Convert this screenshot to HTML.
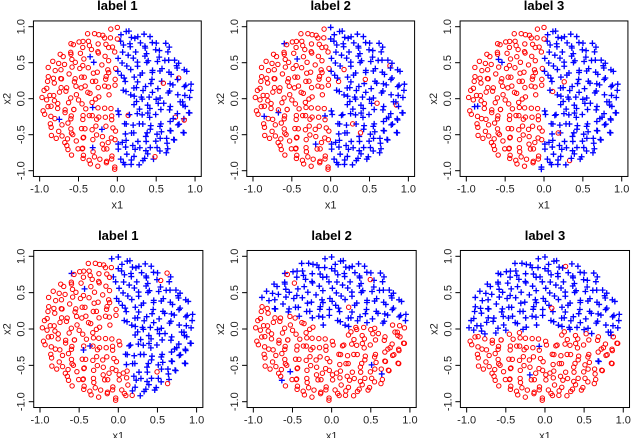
<!DOCTYPE html>
<html><head><meta charset="utf-8"><style>
html,body{margin:0;padding:0;background:#fff;}
svg{display:block;font-family:"Liberation Sans",Arial,sans-serif;}
</style></head><body>
<svg id="chart" width="640" height="438" viewBox="0 0 640 438" xmlns="http://www.w3.org/2000/svg"></svg>
<script>
const tickVals = [-1.0, -0.5, 0.0, 0.5, 1.0];
const tickLabels = ["-1.0", "-0.5", "0.0", "0.5", "1.0"];
const panelTitles = ["label 1", "label 2", "label 3", "label 1", "label 2", "label 3"];
const ang = [1,3,4,7,9,11,12,15,17,19,20,23,25,26,29,31,32,35,36,39,41,42,45,47,48,51,53,54,57,59,60,63,64,67,69,70,73,75,77,78,81,83,84,87,89,90,93,95,96,99,101,102,105,107,108,111,113,115,116,119,121,122,125,127,128,131,133,134,137,139,140,143,145,147,148,151,153,154,157,159,161,162,165,167,168,171,173,174,177,179,181,182,185,187,189,190,193,195,196,199,201,202,205,207,208,211,213,215,216,219,221,222,225,227,228,231,233,234,237,239,241,242,245,247,249,250,253,255,256,259,261,262,265,267,268,271,273,275,276,279,281,282,285,287,288,291,293,294,297,299,301,302,305,307,309,310,313,315,316,319,321,322,325,327,328,331,333,335,336,339,341,342,345,347,348,351,353,354,357,359];
const rad = [0.93,0.41,0.78,0.66,0.22,0.88,0.97,0.54,0.71,0.35,0.84,0.62,0.95,0.48,0.76,0.89,0.29,0.67,0.91,0.58,0.81,0.15,0.73,0.98,0.44,0.86,0.63,0.37,0.92,0.69,0.52,0.79,0.96,0.26,0.83,0.6,0.9,0.47,0.74,0.87,0.33,0.94,0.65,0.8,0.56,0.99,0.42,0.72,0.85,0.19,0.77,0.9,0.61,0.38,0.95,0.7,0.51,0.88,0.82,0.31,0.68,0.93,0.45,0.79,0.97,0.57,0.24,0.86,0.74,0.64,0.91,0.4,0.83,0.55,0.98,0.71,0.12,0.89,0.6,0.77,0.94,0.49,0.84,0.67,0.36,0.92,0.75,0.53,0.87,0.97,0.28,0.81,0.63,0.9,0.46,0.78,0.96,0.58,0.7,0.85,0.34,0.93,0.66,0.8,0.5,0.99,0.43,0.73,0.88,0.21,0.76,0.91,0.59,0.39,0.95,0.69,0.54,0.86,0.82,0.3,0.65,0.94,0.47,0.8,0.97,0.56,0.25,0.87,0.72,0.62,0.9,0.41,0.84,0.57,0.98,0.7,0.17,0.89,0.61,0.78,0.93,0.5,0.83,0.68,0.37,0.92,0.74,0.52,0.86,0.96,0.27,0.8,0.64,0.91,0.45,0.77,0.95,0.6,0.71,0.84,0.33,0.92,0.67,0.81,0.49,0.98,0.44,0.75,0.87,0.23,0.79,0.9,0.58,0.4,0.94,0.69,0.53,0.85,0.81,0.32];
const rad2 = [0.55,0.87,0.31,0.95,0.68,0.46,0.9,0.74,0.18,0.82,0.63,0.97,0.4,0.77,0.88,0.52,0.93,0.26,0.71,0.85,0.6,0.35,0.92,0.79,0.48,0.99,0.66,0.84,0.14,0.73,0.9,0.57,0.81,0.44,0.96,0.69,0.3,0.87,0.62,0.78,0.95,0.5,0.75,0.89,0.38,0.83,0.65,0.97,0.27,0.72,0.86,0.54,0.92,0.42,0.8,0.68,0.98,0.34,0.76,0.91,0.59,0.84,0.2,0.94,0.7,0.47,0.88,0.64,0.8,0.37,0.96,0.73,0.52,0.9,0.29,0.83,0.61,0.99,0.45,0.78,0.87,0.56,0.93,0.39,0.74,0.67,0.95,0.24,0.82,0.6,0.91,0.5,0.77,0.86,0.33,0.97,0.69,0.58,0.89,0.43,0.8,0.64,0.94,0.28,0.72,0.88,0.53,0.96,0.4,0.76,0.85,0.62,0.92,0.35,0.79,0.7,0.98,0.47,0.83,0.16,0.9,0.57,0.75,0.93,0.41,0.86,0.66,0.97,0.3,0.71,0.88,0.55,0.8,0.45,0.95,0.63,0.84,0.22,0.92,0.68,0.59,0.87,0.36,0.96,0.74,0.51,0.9,0.65,0.81,0.42,0.94,0.7,0.27,0.85,0.61,0.98,0.48,0.78,0.89,0.57,0.73,0.93,0.39,0.82,0.66,0.97,0.32,0.86,0.54,0.77,0.91,0.44,0.8,0.69,0.95,0.25,0.88,0.6,0.84,0.5];
const labelsTop1 = "bbbbbbbbbb rbbbbbbbbb bbbbbbbbbb bbbbbbbbbb bbbbbrrrrr rrrrrrrrrr brrrrrrrrr rrrrrrrrrr rrrrrrrrrr rrrrrrrrrr brrrrrrrrr rrrrrrrrrr rrbrrrrrrr rrrrrbbbbb bbbbbbbbbb rbbbbbbbbb bbbbbbbbbb rbbbbbbbbb";
const labelsTop2 = "bbbbbbbbbb bbbbbrbbbb bbbbbbbbbb bbbrbbbbbb bbbbbbrrrr rrrrrrrrrr rrrrbrrrrr rrrrrrrrrr rrrrrrrrrr rrrrrrrrbr rrrrrrrrrr rrrrrrrrrr rrrrrrbrrr rrrrrbbbbb bbbbbbbbbb bbbbrbbbbb bbbbbbbbbb bbbbbbbrbb";
const labelsTop3 = "bbbbbbbbbb bbbbbbbbbb brbbbbbbbb bbbbbbbbbb bbbbbrrrrr rrrrrrrrrr rrrrrrrrbr rrrrrrrrrr rrrrrrrrrr rrrbrrrrrr rrrrrrrrrr rrrrrrrrrr rrrrrrrrrr rrrrbbbbbb bbbbbrbbbb bbbbbbbbbb bbbbbbbbbb bbbbbbbbbb";
const labelsBot1 = "bbbbbbbbbb bbbbbbbbbb bbbbbrbbbb bbbbbbbbbb bbbbbbbbrr rrrrrrrrrr rrrrbrrrrr rrrrrrrrrr rrrrrrrrrr rrrrrrrrrr rrrrrrbrrr rrrrrrrrrr rrrrrrrrrr rrrrrrrrrr rbbbbbbbbb bbbbbrbbbb bbbbbbbbbb bbbbbbbbbb";
const labelsBot2 = "rrrbbbbbbb bbbbbbbbbb bbbbbbbrbb bbbbbbbbbb bbbbbbbbbb bbbbbbbbbb bbbrbbbbbb bbbbbbbbbb rrrrrrrrrr rrrrrrrrrr rrrrrrrrrr rrrrbrrrrr rrrrrrrrrr rrrrrrrrrr rrrrrrrrrr rrrrrrrrbr rrrrrrrrrr rrrrrrrrrr";
const labelsBot3 = "bbbbbbbbbb bbbbbbbbbb bbbbbbbbbb bbbbbbrbbb bbbbbbbbbb bbbbbbbbbb bbbbbbbbbb bbbbbbbbbb bbbbbbbbbb bbbrrrrrrr rrrrrrrrrr rrrrrrrrrr rrrrrrbrrr rrrrrrrrrr rrrrrrrrrr rrrrrrrrrr rrrbrrrrrr rrrrrrrbbb";
const panelLabels = [labelsTop1, labelsTop2, labelsTop3, labelsBot1, labelsBot2, labelsBot3];

const NS = "http://www.w3.org/2000/svg";
const svg = document.getElementById("chart");
function mk(tag, attrs, parent) {
  const e = document.createElementNS(NS, tag);
  for (const k in attrs) e.setAttribute(k, attrs[k]);
  (parent || svg).appendChild(e);
  return e;
}
const geo = [
  {cx: 117.35, cy: 98.7, sx: 77.7, sy: 72, title: 6},
  {cx: 118.3, cy: 329, sx: 78.3, sy: 72.7, title: 236}
];
for (let p = 0; p < 6; p++) {
  const row = Math.floor(p / 3), col = p % 3;
  const g0 = geo[row];
  const ox = col * 213.33;
  const X = v => ox + g0.cx + v * g0.sx;
  const Y = v => g0.cy - v * g0.sy;
  const g = mk("g", {});
  
  
  const labs = panelLabels[p].replace(/ /g, "");
  const pts = mk("g", {}, g);
  
  
  [rad, rad2].forEach(rs => {
    for (let i = 0; i < ang.length; i++) {
      const a = ang[i] * Math.PI / 180;
      const px = X(rs[i] * Math.cos(a)), py = Y(rs[i] * Math.sin(a));
      if (labs[i] === "r") {
        const c = mk("circle", {cx: px, cy: py, r: 2.2, fill: "none", stroke: "#ff0000", "stroke-width": 1}, pts);
        
        
      } else {
        const c = mk("path", {d: `M${px-3} ${py}H${px+3}M${px} ${py-3}V${py+3}`, stroke: "#0000ff", "stroke-width": 1.3}, pts);
        
        
      }
    }
  });
  const L = X(-1.08), R = X(1.08), T = Y(1.08), B = Y(-1.08);
  const box = mk("rect", {x: L, y: T, width: R - L, height: B - T, fill: "none", stroke: "#000", "stroke-width": 1}, g);
  
  
  for (let t = 0; t < tickVals.length; t++) {
    const tx = X(tickVals[t]), ty = Y(tickVals[t]);
    mk("line", {x1: tx, x2: tx, y1: B, y2: B + 5, stroke: "#000"}, g);
    const xl = mk("text", {x: tx, y: B + 16, "font-size": 11, "text-anchor": "middle", fill: "#222"}, g);
    xl.textContent = tickLabels[t];
    
    
    mk("line", {x1: L - 5, x2: L, y1: ty, y2: ty, stroke: "#000"}, g);
    const yl = mk("text", {x: 0, y: 0, "font-size": 11, "text-anchor": "middle", fill: "#222", transform: `translate(${L - 9},${ty}) rotate(-90)`}, g);
    yl.textContent = tickLabels[t];
    
    
  }
  const xt = mk("text", {x: (L + R) / 2, y: B + 32, "font-size": 11, "text-anchor": "middle", fill: "#222"}, g);
  xt.textContent = "x1";
  
  
  const yt = mk("text", {x: 0, y: 0, "font-size": 11, "text-anchor": "middle", fill: "#222", transform: `translate(${L - 23},${(T + B) / 2}) rotate(-90)`}, g);
  yt.textContent = "x2";
  
  
  const ti = mk("text", {x: (L + R) / 2, y: g0.title + 4, "font-size": 13, "font-weight": "bold", "text-anchor": "middle", fill: "#000"}, g);
  ti.textContent = panelTitles[p];
  
  
}
</script>
</body></html>
